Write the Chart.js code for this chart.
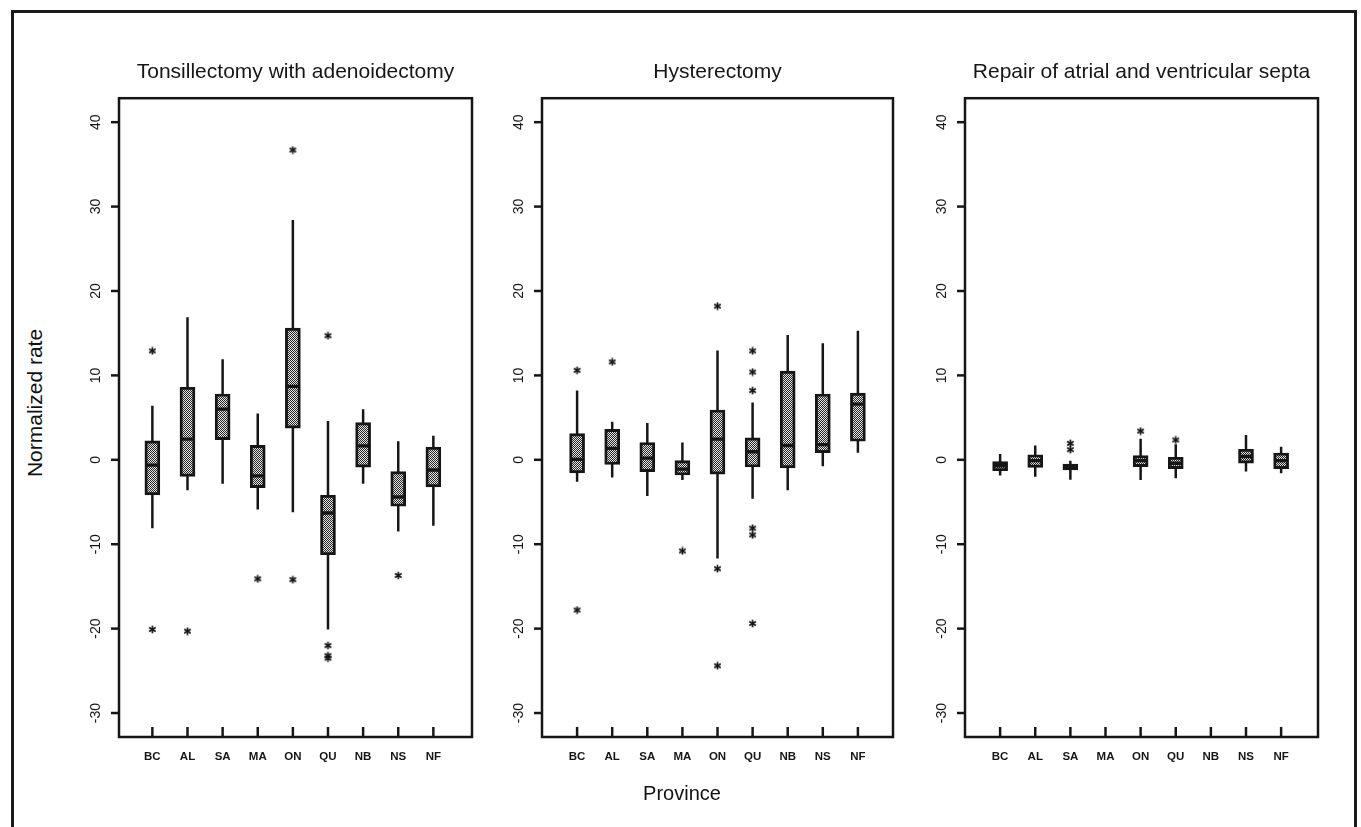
<!DOCTYPE html>
<html>
<head>
<meta charset="utf-8">
<script src="https://cdn.jsdelivr.net/npm/chart.js@4.4.1/dist/chart.umd.min.js"></script>
<style>
  html, body { margin: 0; padding: 0; background: #fff; }
  body { width: 1361px; height: 827px; overflow: hidden; position: relative; font-family: "Liberation Sans", Arial, Helvetica, sans-serif; }
  .frame { position: absolute; left: 11px; top: 10px; width: 1340px; height: 900px; border: 3px solid #1a1a1a; border-bottom: none; }
  canvas.panel { position: absolute; top: 40px; }
  .ytitle { position: absolute; left: 35px; top: 403px; transform: translate(-50%, -50%) rotate(-90deg); font-size: 21px; color: #111; white-space: nowrap; }
  .xtitle { position: absolute; left: 682px; top: 793px; transform: translate(-50%, -50%); font-size: 20px; color: #111; white-space: nowrap; }
</style>
</head>
<body>
<div class="frame"></div>
<canvas id="c1" class="panel"></canvas>
<canvas id="c2" class="panel"></canvas>
<canvas id="c3" class="panel"></canvas>
<div class="ytitle">Normalized rate</div>
<div class="xtitle">Province</div>
<script>
// ---------- DATA ----------
const provinces = ["BC", "AL", "SA", "MA", "ON", "QU", "NB", "NS", "NF"];
const yTickValues = [-30, -20, -10, 0, 10, 20, 30, 40];
const panelTitles = ["Tonsillectomy with adenoidectomy", "Hysterectomy", "Repair of atrial and ventricular septa"];

// Tonsillectomy with adenoidectomy
const tonsLo  = [-8.1, -3.6, -2.85, -5.9, -6.2, -20.1, -2.85, -8.5, -7.8];
const tonsQ1  = [-4.15, -1.97, 2.4, -3.3, 3.75, -11.25, -0.87, -5.5, -3.2];
const tonsMed = [-0.63, 2.45, 6.0, -1.9, 8.7, -6.3, 1.65, -4.4, -1.2];
const tonsQ3  = [2.25, 8.6, 7.8, 1.7, 15.6, -4.2, 4.4, -1.4, 1.5];
const tonsHi  = [6.4, 16.9, 11.9, 5.5, 28.4, 4.6, 6.0, 2.2, 2.85];
const tonsOut = [[12.9, -20.1], [-20.3], [], [-14.1], [36.7, -14.2], [14.7, -22.0, -23.2, -23.5], [], [-13.7], []];

// Hysterectomy
const hystLo  = [-2.6, -2.1, -4.3, -2.4, -11.7, -4.6, -3.6, -0.75, 0.85];
const hystQ1  = [-1.55, -0.55, -1.4, -1.8, -1.7, -0.85, -0.95, 0.85, 2.2];
const hystMed = [0.05, 1.35, 0.2, -1.1, 2.45, 0.95, 1.7, 1.8, 6.6];
const hystQ3  = [3.1, 3.6, 2.05, -0.1, 5.9, 2.6, 10.5, 7.8, 7.9];
const hystHi  = [8.2, 4.5, 4.35, 2.05, 12.95, 6.8, 14.8, 13.8, 15.3];
const hystOut = [[10.6, -17.8], [11.6], [], [-10.8], [18.2, -12.9, -24.4], [12.9, 10.4, 8.2, -8.1, -8.9, -19.4], [], [], []];

// Repair of atrial and ventricular septa
const septLo  = [-1.85, -2.0, -2.35, null, -2.4, -2.2, null, -1.4, -1.6];
const septQ1  = [-1.3, -0.9, -1.2, null, -0.8, -1.05, null, -0.4, -1.05];
const septMed = [-0.7, -0.1, -0.85, null, -0.1, -0.4, null, 0.4, -0.1];
const septQ3  = [-0.2, 0.6, -0.5, null, 0.5, 0.3, null, 1.25, 0.8];
const septHi  = [0.7, 1.7, -0.1, null, 2.5, 1.85, null, 2.95, 1.55];
const septOut = [[], [], [1.95, 1.2], [], [3.4], [2.35], [], [], []];

// ---------- STYLE HELPERS ----------
const INK = "#161616";
function makePattern() {
  const c = document.createElement("canvas");
  c.width = 2; c.height = 2;
  const g = c.getContext("2d");
  g.fillStyle = "#262626"; g.fillRect(0, 0, 2, 2);
  g.fillStyle = "#e6e6e6"; g.fillRect(0, 0, 1, 1); g.fillRect(1, 1, 1, 1);
  return g.createPattern(c, "repeat");
}
function makeAsterisk() {
  const c = document.createElement("canvas");
  c.width = 9; c.height = 9;
  const g = c.getContext("2d");
  g.strokeStyle = INK; g.lineWidth = 1.7;
  const cx = 4.5, cy = 4.5, r = 3.8;
  [90, 30, -30].forEach(a => {
    const t = a * Math.PI / 180;
    g.beginPath();
    g.moveTo(cx - r * Math.cos(t), cy - r * Math.sin(t));
    g.lineTo(cx + r * Math.cos(t), cy + r * Math.sin(t));
    g.stroke();
  });
  return c;
}
const boxFill = makePattern();
const asterisk = makeAsterisk();
const HALF_BOX = 0.2; // half box width in category units for the median bar

const framePlugin = {
  id: "frameAxes",
  afterDraw(chart) {
    const ctx = chart.ctx;
    const a = chart.chartArea;
    const ys = chart.scales.y, xs = chart.scales.x;
    ctx.save();
    ctx.strokeStyle = INK;
    ctx.lineWidth = 2.5;
    ctx.strokeRect(a.left, a.top, a.right - a.left, a.bottom - a.top);
    ctx.fillStyle = INK;
    ctx.font = "14px 'Liberation Sans', Arial, sans-serif";
    ctx.textAlign = "center";
    ctx.textBaseline = "middle";
    ys.ticks.forEach(t => {
      const py = ys.getPixelForValue(t.value);
      ctx.beginPath(); ctx.moveTo(a.left - 8, py); ctx.lineTo(a.left, py); ctx.stroke();
      ctx.save();
      ctx.translate(a.left - 23, py);
      ctx.rotate(-Math.PI / 2);
      ctx.fillText(String(t.value), 0, 0);
      ctx.restore();
    });
    ctx.font = "bold 11.5px 'Liberation Sans', Arial, sans-serif";
    provinces.forEach((p, i) => {
      const px = xs.getPixelForValue(i + 1);
      ctx.beginPath(); ctx.moveTo(px, a.bottom); ctx.lineTo(px, a.bottom - 10); ctx.stroke();
      ctx.fillText(p, px, a.bottom + 20);
    });
    ctx.restore();
  }
};

function buildDatasets(lo, q1, med, q3, hi, out) {
  const whisk = [], medians = [], boxes = [], pts = [];
  provinces.forEach((p, i) => {
    const x = i + 1;
    if (lo[i] !== null) {
      whisk.push({ x: x, y: lo[i] }, { x: x, y: hi[i] }, { x: x, y: null });
      medians.push({ x: x - HALF_BOX, y: med[i] }, { x: x + HALF_BOX, y: med[i] }, { x: x, y: null });
      boxes.push({ x: x, y: [q1[i], q3[i]] });
    }
    out[i].forEach(v => pts.push({ x: x, y: v }));
  });
  return [
    { type: "line", data: whisk, borderColor: INK, borderWidth: 2.5, pointRadius: 0, spanGaps: false, fill: false, order: 4 },
    { type: "bar", data: boxes, backgroundColor: boxFill, borderColor: INK, borderWidth: 2.9, borderSkipped: false, barThickness: 15, grouped: false, order: 3 },
    { type: "line", data: medians, borderColor: INK, borderWidth: 3.4, pointRadius: 0, spanGaps: false, fill: false, order: 2 },
    { type: "scatter", data: pts, pointStyle: asterisk, pointRadius: 4, order: 1 }
  ];
}

const panels = [
  { id: "c1", pl: 119, pr: 472, xmin: 0.05, xmax: 10.1, title: panelTitles[0], ds: buildDatasets(tonsLo, tonsQ1, tonsMed, tonsQ3, tonsHi, tonsOut) },
  { id: "c2", pl: 542, pr: 893, xmin: 0, xmax: 10, title: panelTitles[1], ds: buildDatasets(hystLo, hystQ1, hystMed, hystQ3, hystHi, hystOut) },
  { id: "c3", pl: 965, pr: 1318, xmin: 0, xmax: 10.05, title: panelTitles[2], ds: buildDatasets(septLo, septQ1, septMed, septQ3, septHi, septOut) }
];

panels.forEach(p => {
  const cv = document.getElementById(p.id);
  const padL = 60, padR = 20;
  cv.width = p.pr - p.pl + padL + padR;
  cv.height = 787;
  cv.style.left = (p.pl - padL) + "px";
  new Chart(cv, {
    type: "scatter",
    data: { datasets: p.ds },
    options: {
      responsive: false,
      animation: false,
      events: [],
      layout: { padding: { left: padL, right: padR, top: 0, bottom: 90 } },
      plugins: {
        legend: { display: false },
        tooltip: { enabled: false },
        title: {
          display: true, text: p.title, color: INK,
          font: { family: "'Liberation Sans', Arial, sans-serif", size: 21, weight: "normal", lineHeight: 1.2 },
          padding: { top: 20, bottom: 13 }
        }
      },
      scales: {
        x: {
          type: "linear", min: p.xmin, max: p.xmax, offset: false,
          grid: { display: false, drawTicks: false, offset: false }, border: { display: false },
          ticks: { display: false },
          afterFit: s => { s.height = 0; }
        },
        y: {
          type: "linear", min: -32.84, max: 42.84,
          grid: { display: false, drawTicks: false }, border: { display: false },
          ticks: { display: false },
          afterBuildTicks: s => { s.ticks = yTickValues.map(v => ({ value: v })); },
          afterFit: s => { s.width = 0; }
        }
      }
    },
    plugins: [framePlugin]
  });
});
</script>
</body>
</html>
